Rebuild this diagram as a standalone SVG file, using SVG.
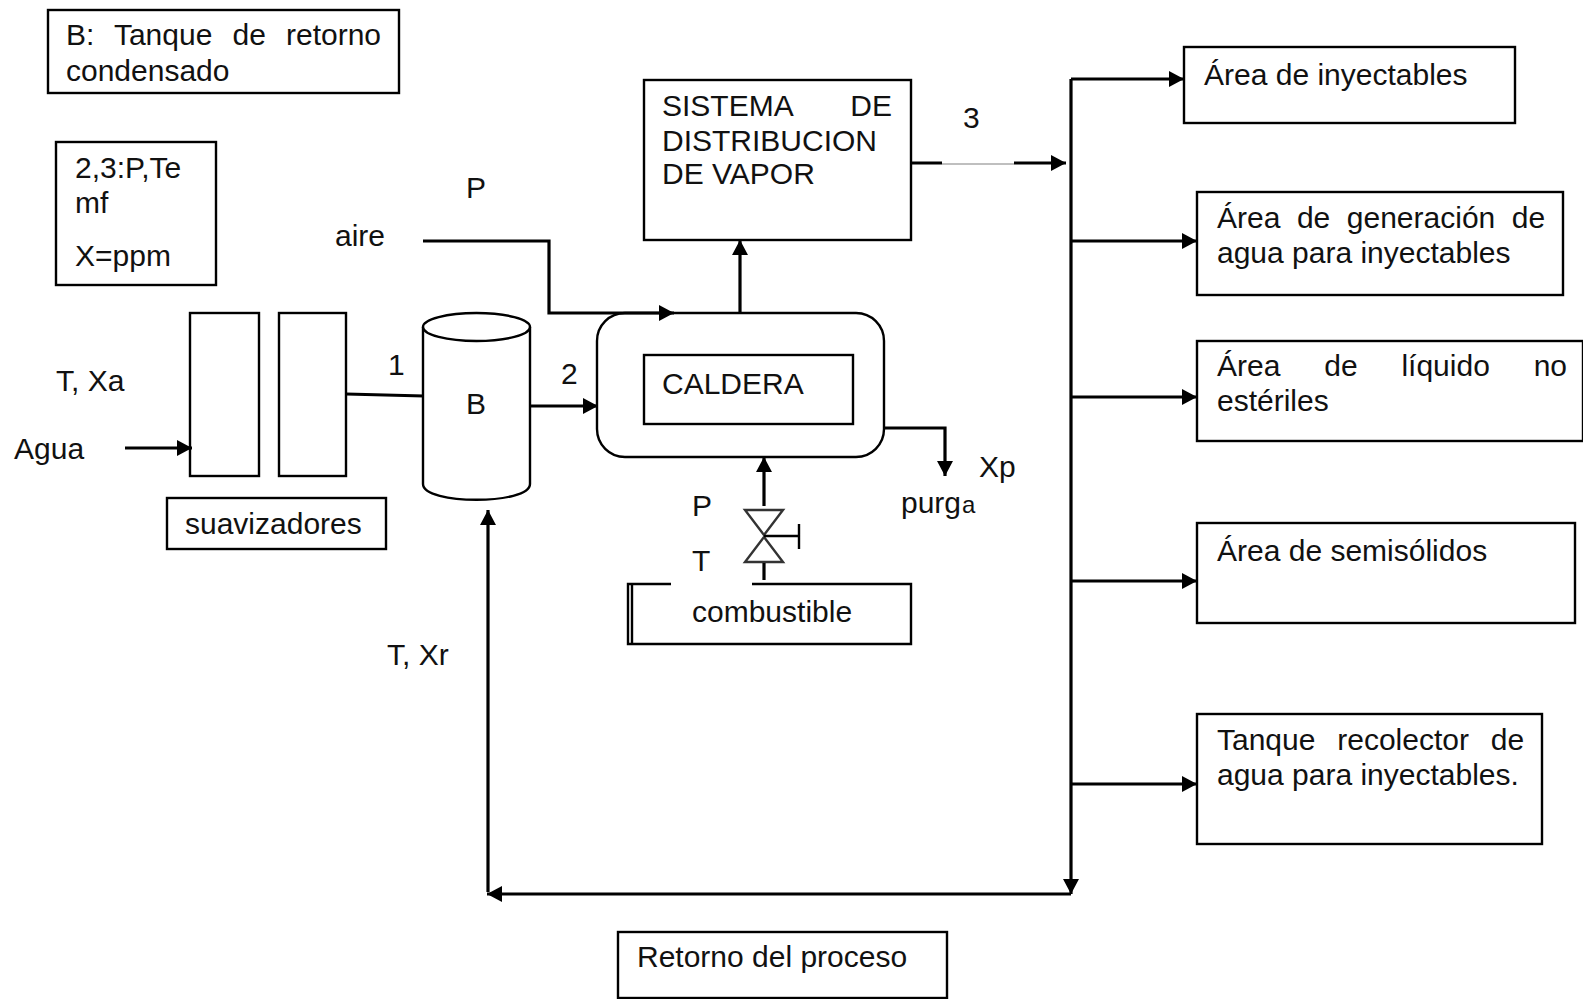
<svg xmlns="http://www.w3.org/2000/svg" width="1583" height="999" viewBox="0 0 1583 999">
<defs><marker id="a" markerUnits="userSpaceOnUse" markerWidth="18" markerHeight="18" refX="15" refY="8" orient="auto"><path d="M0 0L15 8L0 16z" fill="#000"/></marker></defs>
<style>
text{font-family:"Liberation Sans",Arial,sans-serif;font-size:30px;fill:#111}
.b{fill:#fff;stroke:#000;stroke-width:2.4}
.c{fill:none;stroke:#000;stroke-width:3.2}
.m{marker-end:url(#a)}
</style>
<rect width="1583" height="999" fill="#fff"/>
<g id="note-b"><rect class="b" x="48" y="10" width="351" height="83"/><text x="66" y="45" word-spacing="11.800">B: Tanque de retorno</text><text x="66" y="81">condensado</text></g>
<g id="note-params"><rect class="b" x="56" y="142" width="160" height="143"/><text x="75" y="178">2,3:P,Te</text><text x="75" y="213">mf</text><text x="75" y="266">X=ppm</text></g>
<g id="soft1"><rect class="b" x="190" y="313" width="69" height="163"/></g>
<g id="soft2"><rect class="b" x="279" y="313" width="67" height="163"/></g>
<g id="suavizadores"><rect class="b" x="167" y="498" width="219" height="51"/><text x="185" y="534">suavizadores</text></g>
<g id="tank"><path class="b" d="M423 327V484C423 505 530 505 530 484V327"/><ellipse class="b" cx="476.500" cy="327" rx="53.500" ry="14"/><text x="466" y="414">B</text></g>
<g id="boiler"><rect class="b" x="597" y="313" width="287" height="144" rx="28"/></g>
<g id="caldera"><rect class="b" x="644" y="355" width="209" height="69"/><text x="662" y="394">CALDERA</text></g>
<g id="sistema"><rect class="b" x="644" y="80" width="267" height="160"/><text x="662" y="116" word-spacing="50">SISTEMA DE</text><text x="662" y="151">DISTRIBUCION</text><text x="662" y="184">DE VAPOR</text></g>
<g id="valve"><path d="M745 510H783L764 535zM745 562H783L764 537z" fill="#fff" stroke="#333" stroke-width="2.400"/><path fill="none" stroke="#000" stroke-width="2.400" d="M764 536H799M799 524V549"/></g>
<g id="combustible"><path class="b" style="fill:none" d="M671 584H628V644H911V584H752M632 584V644"/><text x="692" y="622">combustible</text></g>
<g id="area1"><rect class="b" x="1184" y="47" width="331" height="76"/><text x="1204" y="85">Área de inyectables</text></g>
<g id="area2"><rect class="b" x="1197" y="192" width="366" height="103"/><text x="1217" y="228" word-spacing="8.200">Área de generación de</text><text x="1217" y="263">agua para inyectables</text></g>
<g id="area3"><rect class="b" x="1197" y="341" width="386" height="100"/><text x="1217" y="376" word-spacing="35.500">Área de líquido no</text><text x="1217" y="411">estériles</text></g>
<g id="area4"><rect class="b" x="1197" y="523" width="378" height="100"/><text x="1217" y="561">Área de semisólidos</text></g>
<g id="area5"><rect class="b" x="1197" y="714" width="345" height="130"/><text x="1217" y="750" word-spacing="13.500">Tanque recolector de</text><text x="1217" y="785">agua para inyectables.</text></g>
<g id="retorno"><rect class="b" x="618" y="932" width="329" height="66"/><text x="637" y="967">Retorno del proceso</text></g>
<g id="labels">
<text x="56" y="391">T, Xa</text><text x="14" y="459">Agua</text><text x="335" y="246">aire</text><text x="466" y="198">P</text><text x="388" y="375">1</text><text x="561" y="384">2</text><text x="963" y="128">3</text><text x="692" y="516">P</text><text x="692" y="571">T</text><text x="979" y="477">Xp</text><text x="901" y="513">purg<tspan font-size="24" dx="1">a</tspan></text><text x="387" y="665">T, Xr</text>
</g>
<g id="connectors">
<path class="c m" d="M125 448H192"/>
<path class="c" d="M346 394L424 396"/>
<path class="c m" d="M423 241H549V313H674"/>
<path class="c m" d="M530 406H598"/>
<path class="c m" d="M740 312V240"/>
<path class="c m" d="M911 163H942M1014 163H1066"/>
<path fill="none" stroke="#aaa" stroke-width="1.500" d="M942 164H1014"/>
<path class="c m" d="M884 428H945V476"/>
<path class="c m" d="M764 506V457"/>
<path class="c" d="M764 563V580"/>
<path class="c m" d="M1071 79V894"/>
<path class="c m" d="M1071 79H1184"/>
<path class="c m" d="M1071 241H1197"/>
<path class="c m" d="M1071 397H1197"/>
<path class="c m" d="M1071 581H1197"/>
<path class="c m" d="M1071 784H1197"/>
<path class="c m" d="M1071 894H487"/>
<path class="c m" d="M488 892V510"/>
</g>
</svg>
